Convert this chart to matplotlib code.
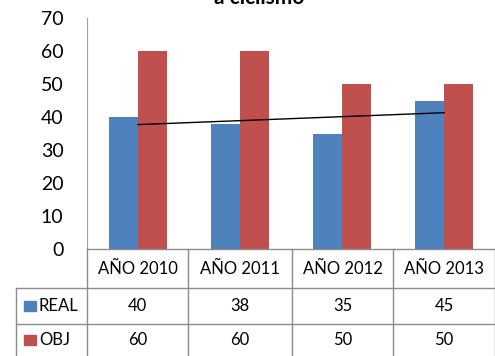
import numpy as np
import matplotlib
matplotlib.use("Agg")
import matplotlib.pyplot as plt
from matplotlib.lines import Line2D
from matplotlib.patches import Rectangle

categories = ["AÑO 2010", "AÑO 2011", "AÑO 2012", "AÑO 2013"]
real = [40, 38, 35, 45]
obj = [60, 60, 50, 50]
series_names = ["REAL", "OBJ"]
yticks = [0, 10, 20, 30, 40, 50, 60, 70]
title = "a ciclismo"

BLUE = "#4F81BD"
RED = "#C0504D"
GRID = "#8C8C8C"
FONT = "Lato"

W, H = 495, 356
fig = plt.figure(figsize=(W / 100, H / 100), dpi=100)

def fx(px):
    return px / W

def fy(py):
    return 1 - py / H

# plot area in pixel coordinates
left, right = 87, 495
top, bottom = 18, 249
ax = fig.add_axes([fx(left), fy(bottom), fx(right - left), (bottom - top) / H])

x = np.arange(len(categories)) + 0.5
bw = 0.285
ax.bar(x - bw / 2, real, width=bw, color=BLUE)
ax.bar(x + bw / 2, obj, width=bw, color=RED)

# linear trend of REAL
coef = np.polyfit(x, real, 1)
ax.plot([x[0], x[-1]], np.polyval(coef, [x[0], x[-1]]), color="black", lw=1)

ax.set_xlim(0, len(categories))
ax.set_ylim(0, 70)
ax.set_yticks(yticks)
ax.set_yticklabels([str(t) for t in yticks], fontsize=14, family=FONT)
ax.tick_params(axis="y", length=0, pad=17)
ax.set_xticks([])
for s in ["top", "right", "bottom"]:
    ax.spines[s].set_visible(False)
ax.spines["left"].set_color("#A0A0A0")

# data table under the plot
row_y = [249, 288, 324, 372]
col_x = [left, 188, 292, 393, right]
legend_left = 16

def hline(y, x0, x1):
    fig.add_artist(Line2D([fx(x0), fx(x1)], [fy(y), fy(y)], color=GRID, lw=1))

def vline(xp, y0, y1):
    fig.add_artist(Line2D([fx(xp), fx(xp)], [fy(y0), fy(y1)], color=GRID, lw=1))

hline(row_y[0], left, right)
hline(row_y[1], legend_left, right)
hline(row_y[2], legend_left, right)
for xp in col_x:
    vline(xp, row_y[0], row_y[-1])
vline(legend_left, row_y[1], row_y[-1])

for i, cat in enumerate(categories):
    cx = (col_x[i] + col_x[i + 1]) / 2
    fig.text(fx(cx), fy((row_y[0] + row_y[1]) / 2), cat, ha="center", va="center",
             fontsize=12, family=FONT)
    fig.text(fx(cx), fy((row_y[1] + row_y[2]) / 2), str(real[i]), ha="center", va="center",
             fontsize=12, family=FONT)
    fig.text(fx(cx), fy((row_y[2] + 356) / 2), str(obj[i]), ha="center", va="center",
             fontsize=12, family=FONT)

for name, color, (y0, y1) in zip(series_names, [BLUE, RED],
                                 [(row_y[1], row_y[2]), (row_y[2], 356)]):
    cy = (y0 + y1) / 2
    fig.add_artist(Rectangle((fx(24), fy(cy + 5)), fx(12), 10 / H, color=color,
                             transform=fig.transFigure))
    fig.text(fx(39), fy(cy), name, ha="left", va="center", fontsize=12, family=FONT)

fig.text(fx(259), fy(4), title, ha="center", va="baseline", fontsize=15,
         fontweight="bold", family=FONT)

fig.savefig("out.png", dpi=100)
